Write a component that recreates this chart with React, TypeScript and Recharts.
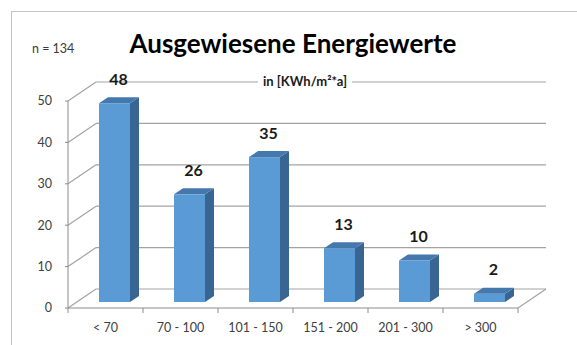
import { BarChart, Bar, XAxis, YAxis, CartesianGrid, LabelList } from "recharts";

const categories = ["< 70", "70 - 100", "101 - 150", "151 - 200", "201 - 300", "> 300"];
const counts = [48, 26, 35, 13, 10, 2];
const yTicks = [0, 10, 20, 30, 40, 50];

const data = categories.map((range, i) => ({ range, count: counts[i] }));

// depth of the 3D box: back wall offset, and the bar's front/back depth
const WALL_DX = 28;
const WALL_DY = -19;
const BAR_DX = 9;
const BAR_DY = -6;

const FONT = "Lato, 'Open Sans', sans-serif";
const GRID = "#a3a3a3";
const AXIS = "#8c8c8c";

function Column(props: any) {
  const { x, y, width, height } = props;
  if (height <= 0) return null;
  const fx = x + BAR_DX;
  const fy = y + BAR_DY;
  const d = 9;
  const e = -6;
  return (
    <g>
      <rect x={fx} y={fy} width={width} height={height} fill="#5b9bd5" />
      <polygon
        points={`${fx + width},${fy} ${fx + width + d},${fy + e} ${fx + width + d},${fy + height + e} ${fx + width},${fy + height}`}
        fill="#386591"
      />
      <polygon
        points={`${fx},${fy} ${fx + d},${fy + e} ${fx + width + d},${fy + e} ${fx + width},${fy}`}
        fill="#4579ad"
      />
    </g>
  );
}

function GridLine(props: any) {
  const { x1, y1, x2, index } = props;
  const bx1 = x1 + WALL_DX;
  const bx2 = x2 + WALL_DX;
  const by = y1 + WALL_DY;
  return (
    <g key={`g-${index}`}>
      <line x1={x1} y1={y1} x2={bx1} y2={by} stroke={GRID} strokeWidth={1.2} />
      <line x1={bx1} y1={by} x2={bx2} y2={by} stroke={GRID} strokeWidth={1.2} />
      {y1 > 300 && (
        <line x1={x2} y1={y1} x2={bx2} y2={by} stroke={GRID} strokeWidth={1.2} />
      )}
    </g>
  );
}

function CategoryTick(props: any) {
  const { x, y, payload, index, width } = props;
  const band = width / categories.length;
  const left = x - band / 2;
  return (
    <g>
      <line x1={left} y1={y - 8} x2={left} y2={y - 3} stroke={AXIS} />
      {index === categories.length - 1 && (
        <line x1={left + band} y1={y - 8} x2={left + band} y2={y - 3} stroke={AXIS} />
      )}
      <text
        x={x}
        y={y + 16}
        textAnchor="middle"
        fontFamily={FONT}
        fontSize={12.5}
        fill="#404040"
      >
        {payload.value}
      </text>
    </g>
  );
}

function ValueLabel(props: any) {
  const { x, y, width, value } = props;
  return (
    <text
      x={x + width / 2 + BAR_DX + 4}
      y={y - 31}
      textAnchor="middle"
      dominantBaseline="central"
      fontFamily={FONT}
      fontWeight={700}
      fontSize={16}
      fill="#1a1a1a"
    >
      {value}
    </text>
  );
}

export default function App() {
  return (
    <div
      style={{
        position: "absolute",
        left: 0,
        top: 0,
        width: 577,
        height: 345,
        background: "#fff",
        overflow: "hidden",
      }}
    >
      <div
        style={{
          position: "absolute",
          left: 11,
          top: 11,
          width: 580,
          height: 350,
          borderTop: "1px solid #c4c4c4",
          borderLeft: "1px solid #c4c4c4",
        }}
      />
      <BarChart
        width={577}
        height={345}
        data={data}
        margin={{ top: 101, right: 59, bottom: 7, left: 38 }}
      >
        <CartesianGrid vertical={false} horizontal={GridLine} />
        <XAxis
          dataKey="range"
          height={30}
          axisLine={{ stroke: AXIS }}
          tickLine={false}
          tick={CategoryTick}
          interval={0}
        />
        <YAxis
          width={30}
          domain={[0, 50]}
          ticks={yTicks}
          interval={0}
          axisLine={{ stroke: AXIS }}
          tickLine={{ stroke: AXIS }}
          tickSize={3}
          tickMargin={13}
          tick={{ fontSize: 12.5, fill: "#404040", fontFamily: FONT }}
        />
        <Bar dataKey="count" barSize={31} shape={Column} isAnimationActive={false}>
          <LabelList dataKey="count" content={ValueLabel} />
        </Bar>
      </BarChart>
      <div
        style={{
          position: "absolute",
          left: 0,
          width: 586,
          top: 27,
          textAlign: "center",
          fontFamily: FONT,
          fontWeight: 700,
          fontSize: 26,
          color: "#000",
        }}
      >
        Ausgewiesene Energiewerte
      </div>
      <div
        style={{
          position: "absolute",
          left: 32,
          top: 41,
          fontFamily: FONT,
          fontSize: 12.5,
          color: "#3a3a3a",
        }}
      >
        n = 134
      </div>
      <div
        style={{
          position: "absolute",
          left: 258,
          top: 73,
          padding: "0 5px",
          background: "#fff",
          fontFamily: FONT,
          fontWeight: 700,
          fontSize: 13,
          color: "#1a1a1a",
        }}
      >
        in [KWh/m²*a]
      </div>
    </div>
  );
}
